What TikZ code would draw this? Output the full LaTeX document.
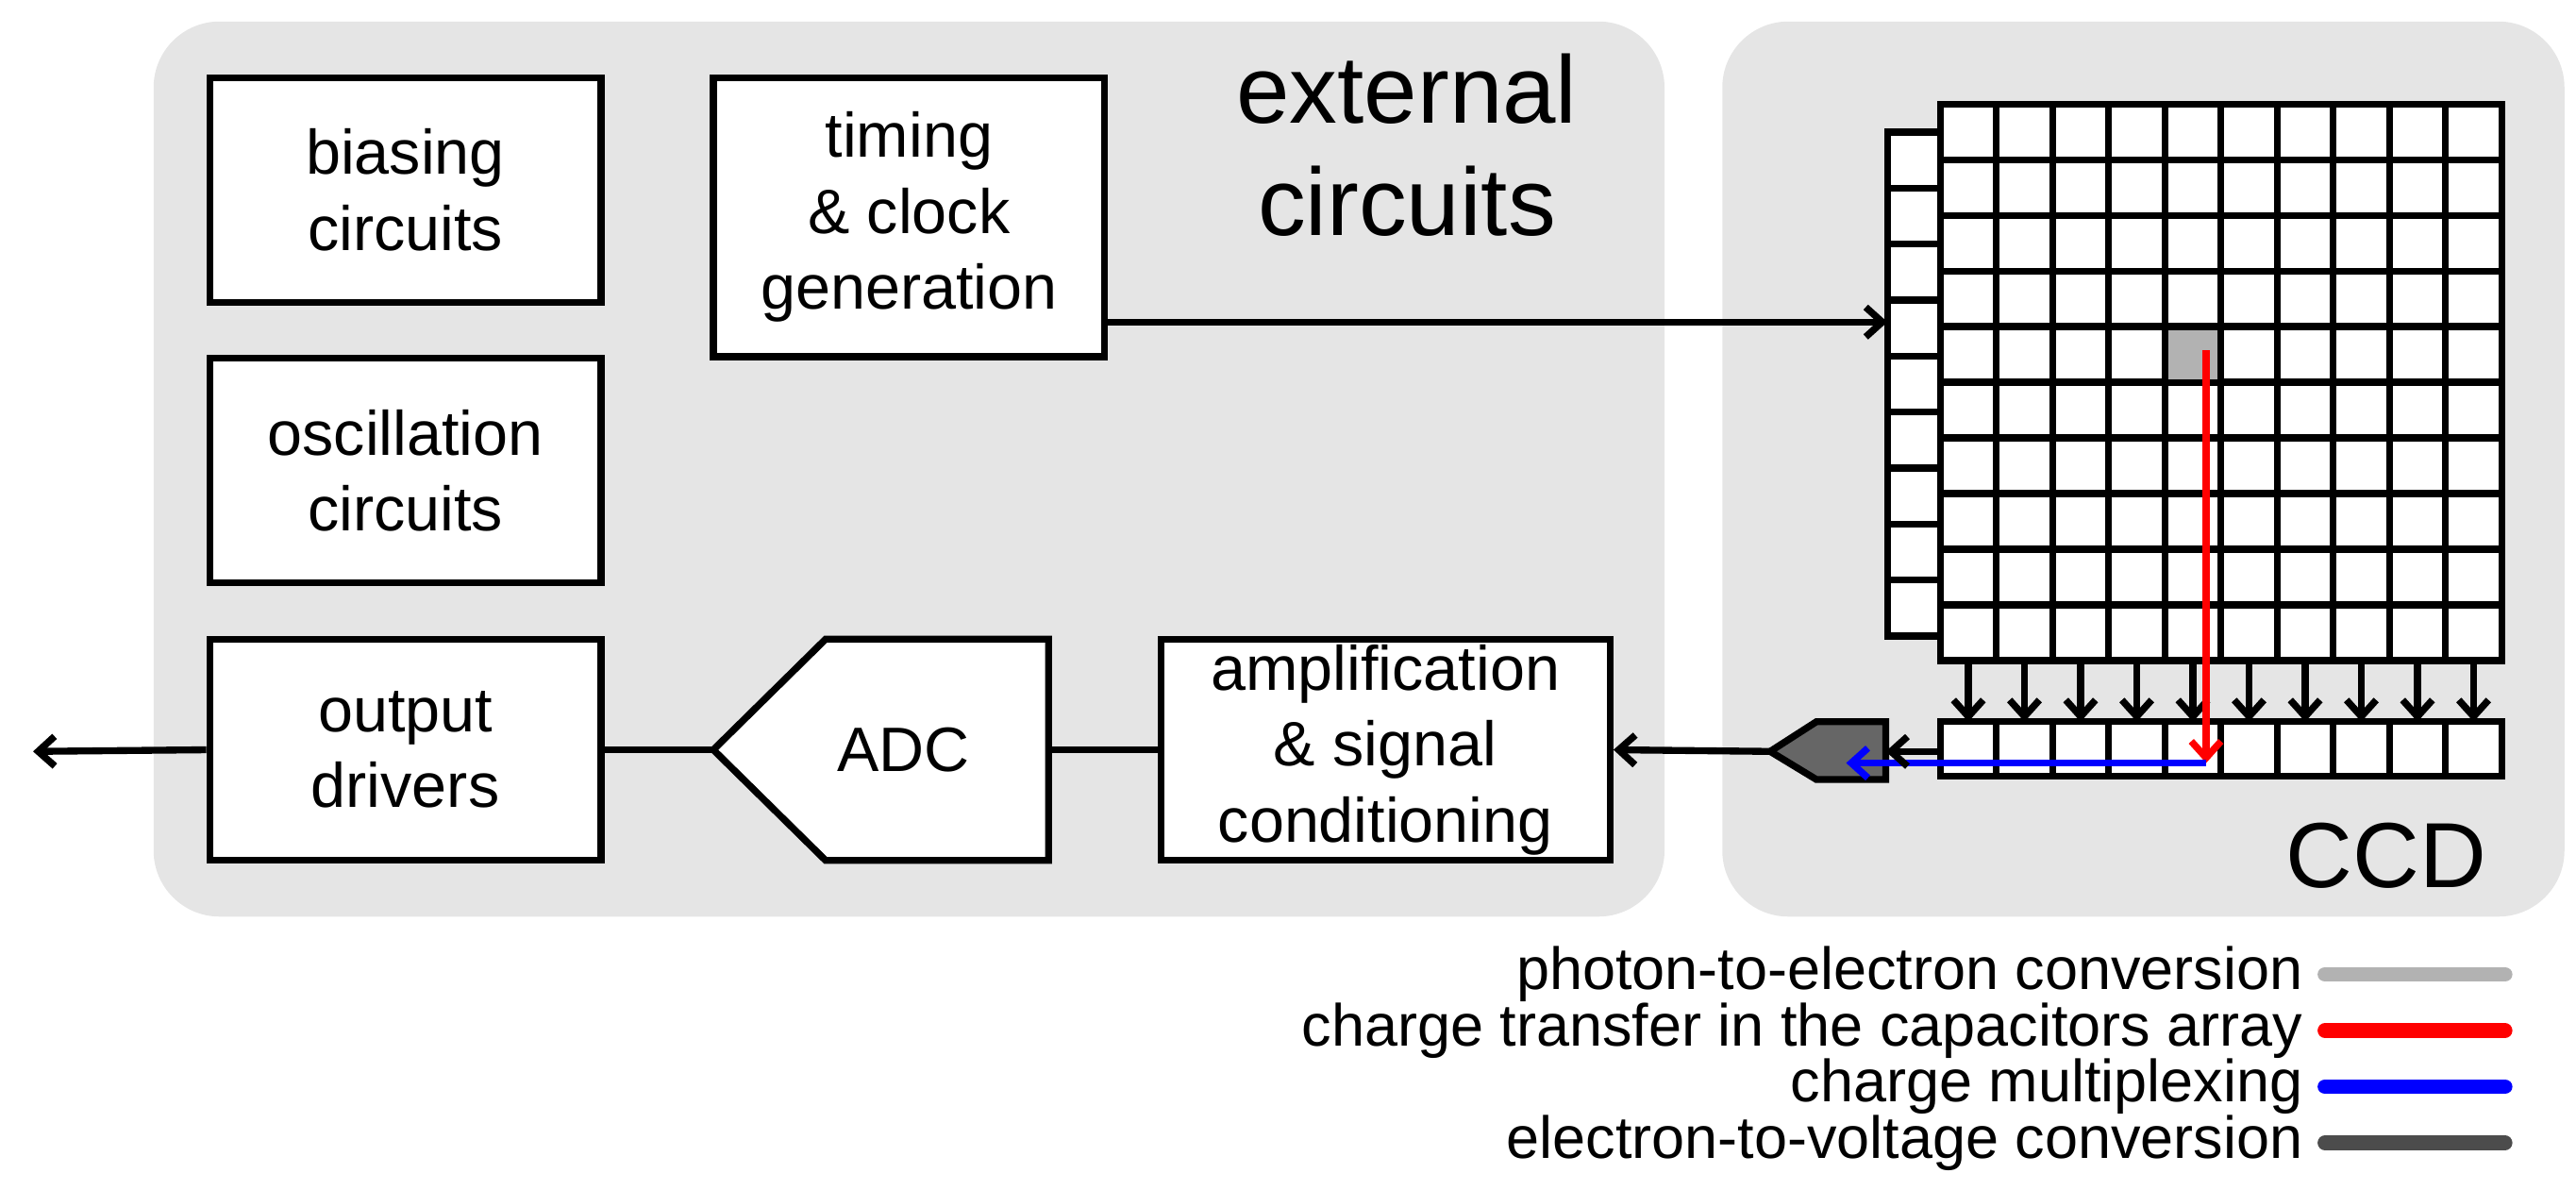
\documentclass[tikz,border=0pt]{standalone}
\usepackage{fontspec}
\setmainfont{Liberation Sans}
\usetikzlibrary{arrows.meta}
\begin{document}
\begin{tikzpicture}[x=0.5pt,y=-0.5pt,
  lw/.style={line width=2.1pt},
  box/.style={draw,lw,fill=white,minimum width=118.5pt,minimum height=68pt,inner sep=0pt,font=\fontsize{19}{23}\selectfont,align=center},
  panel/.style={fill=black!10,rounded corners=20pt},
  arr/.style={lw,-{Straight Barb[length=5pt,width=9pt,line width=2.1pt]}},
  cell/.style={draw,lw,fill=white},
  leg/.style={anchor=east,font=\fontsize{18}{20}\selectfont,inner sep=0pt},
  legl/.style={line width=4.5pt,line cap=round}]
\useasboundingbox (0,0) rectangle (1560,720);
\fill[panel] (93,13) rectangle (1008,555);
\fill[panel] (1043,13) rectangle (1553,555);
\node[font=\fontsize{29}{34}\selectfont,align=center] (ext) at (852,88) {external\\circuits};
\node[font=\fontsize{28}{32}\selectfont] (ccd) at (1445,518) {CCD};
\node[box] (bias) at (245.5,115) {biasing\\circuits};
\node[box] (osc) at (245.5,285) {oscillation\\circuits};
\node[box,minimum height=84.5pt] (tim) at (550.5,131.5) {timing\\\& clock\\generation};
\node[box,minimum height=67pt] (out) at (245.5,454) {output\\drivers};
\node[box,minimum width=136pt,minimum height=67pt] (amp) at (839,454) {amplification\\\& signal\\conditioning};
\draw[lw,fill=white] (432,454) -- (500,387) -- (635,387) -- (635,521) -- (500,521) -- cycle;
\node[font=\fontsize{19}{23}\selectfont] (adc) at (547,454) {ADC};
\coordinate (adcL) at (432,454);
\coordinate (adcR) at (635,454);
% CCD grid
\foreach \i in {0,...,9}{\foreach \j in {0,...,9}{
  \draw[cell] (1175+34*\i,63+33.7*\j) rectangle ++(34,33.7);}}
\fill[black!30] (1175+34*4+2,63+33.7*4+2) rectangle ++(30,29.7);
\foreach \j in {0,...,8}{\draw[cell] (1143,80+33.9*\j) rectangle ++(32,33.9);}
\foreach \i in {0,...,9}{\draw[cell] (1175+34*\i,437) rectangle ++(34,33);
  \draw[arr] (1192+34*\i,400) -- (1192+34*\i,437);}
\coordinate (colL) at (1143,195);
\coordinate (regL) at (1175,455);
\draw[lw,fill=black!60] (1072,455) -- (1100,437) -- (1142,437) -- (1142,472) -- (1100,472) -- cycle;
\coordinate (convR) at (1142,455);
\coordinate (convL) at (1072,455);
\coordinate (outend) at (20,455);
\coordinate (px) at (1336,212);
\coordinate (pb) at (1336,462);
\coordinate (pl) at (1118,462);
\draw[red,arr] (px) -- (pb);
\draw[blue,arr] (pb) -- (pl);
\draw[arr] (tim.east|-colL) -- (colL);
\draw[arr] (regL) -- (convR);
\draw[arr] (convL) -- (amp.east);
\draw[lw] (amp.west) -- (adcR);
\draw[lw] (adcL) -- (out.east);
\draw[arr] (out.west) -- (outend);
% legend
\node[leg] (l1) at (1395,590) {photon-to-electron conversion};
\node[leg] (l2) at (1395,624) {charge transfer in the capacitors array};
\node[leg] (l3) at (1395,658) {charge multiplexing};
\node[leg] (l4) at (1395,692) {electron-to-voltage conversion};
\draw[legl,black!30] (1408,590) -- (1517,590);
\draw[legl,red] (1408,624) -- (1517,624);
\draw[legl,blue] (1408,658) -- (1517,658);
\draw[legl,black!70] (1408,692) -- (1517,692);
\end{tikzpicture}
\end{document}
